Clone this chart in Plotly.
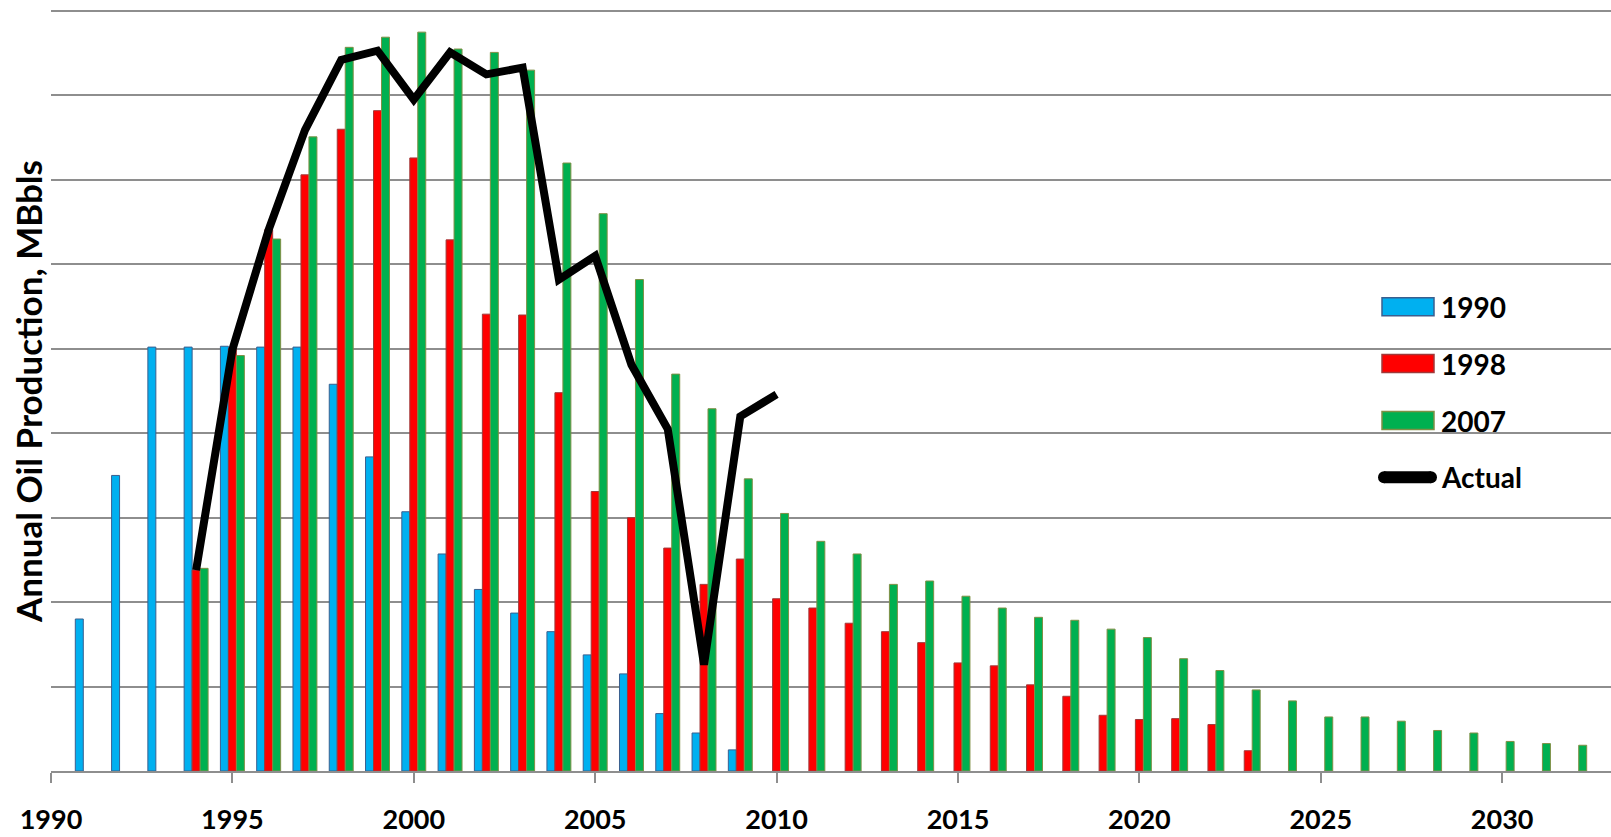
import plotly.graph_objects as go

# ---------------- data ----------------
years_1990 = list(range(1991, 2010))
prod_1990 = [18.0, 35.0, 50.2, 50.2, 50.3, 50.2, 50.2, 45.8, 37.2, 30.7,
             25.7, 21.5, 18.7, 16.5, 13.75, 11.5, 6.8, 4.5, 2.5]

years_1998 = list(range(1994, 2024))
prod_1998 = [23.8, 50.0, 64.1, 70.6, 76.0, 78.2, 72.6, 62.9, 54.1, 54.0,
             44.8, 33.1, 30.0, 26.4, 22.1, 25.1, 20.4, 19.3, 17.5, 16.5,
             15.2, 12.8, 12.45, 10.2, 8.85, 6.6, 6.1, 6.2, 5.5, 2.4]

years_2007 = list(range(1994, 2033))
prod_2007 = [24.0, 49.2, 63.0, 75.1, 85.7, 86.9, 87.5, 85.5, 85.1, 83.0,
             72.0, 66.0, 58.2, 47.0, 42.9, 34.6, 30.5, 27.2, 25.7, 22.1,
             22.5, 20.7, 19.3, 18.2, 17.85, 16.8, 15.8, 13.3, 11.9, 9.6,
             8.3, 6.4, 6.4, 5.9, 4.8, 4.5, 3.5, 3.25, 3.05]

years_actual = list(range(1994, 2011))
prod_actual = [23.8, 49.9, 64.1, 75.9, 84.2, 85.3, 79.5, 85.1, 82.5, 83.3,
               58.2, 61.0, 48.1, 40.5, 12.6, 42.0, 44.6]

series_names = ["1990", "1998", "2007", "Actual"]
y_title = "Annual Oil Production, MBbls"

# ---------------- styles ----------------
FONT = "Lato"
GRID = "#8E8E8E"
fills = ["#00B0F0", "#FF0000", "#00B050"]
edges = ["#3A5F8F", "#A0393A", "#7F8F45"]

fig = go.Figure()
for name, xs, ys, fc, ec in zip(series_names[:3],
                                [years_1990, years_1998, years_2007],
                                [prod_1990, prod_1998, prod_2007],
                                fills, edges):
    fig.add_trace(go.Bar(x=xs, y=ys, name=name, marker=dict(color=fc, line=dict(color=ec, width=1)),
                         showlegend=False))

fig.add_trace(go.Scatter(x=years_actual, y=prod_actual, name="Actual", mode="lines",
                         line=dict(color="black", width=8), showlegend=False))

W, H = 1611, 837
ML, MR, MT, MB = 51, 0, 3, 66
PW, PH = W - ML - MR, H - MT - MB
YMAX = 90.95


def px(xp):
    return (xp - ML) / PW


def py(yp):
    return (H - MB - yp) / PH


shapes = []
annotations = []
# manual legend
legend_rows = [306.8, 363.5, 420.5, 477.3]
for i in range(3):
    yc = legend_rows[i]
    shapes.append(dict(type="rect", xref="paper", yref="paper",
                       x0=px(1382), x1=px(1434), y0=py(yc + 9), y1=py(yc - 9),
                       fillcolor=fills[i], line=dict(color=edges[i], width=1.5)))
shapes.append(dict(type="line", xref="paper", yref="paper",
                   x0=px(1384), x1=px(1431), y0=py(legend_rows[3]), y1=py(legend_rows[3]),
                   line=dict(color="black", width=12)))
shapes.append(dict(type="circle", xref="paper", yref="paper",
                   x0=px(1378), x1=px(1390), y0=py(legend_rows[3] + 6), y1=py(legend_rows[3] - 6),
                   fillcolor="black", line=dict(width=0)))
shapes.append(dict(type="circle", xref="paper", yref="paper",
                   x0=px(1425), x1=px(1437), y0=py(legend_rows[3] + 6), y1=py(legend_rows[3] - 6),
                   fillcolor="black", line=dict(width=0)))
for i in range(4):
    annotations.append(dict(x=px(1439), y=py(legend_rows[i]), xref="paper", yref="paper",
                            text=series_names[i], showarrow=False, xanchor="left", yanchor="middle",
                            font=dict(family=FONT, size=28, color="black", weight="bold")))

annotations.append(dict(x=px(28), y=py(392), xref="paper", yref="paper", text=y_title,
                        textangle=-90, showarrow=False, xanchor="center", yanchor="middle",
                        font=dict(family=FONT, size=35, color="black", weight="bold")))

fig.update_layout(
    width=W, height=H,
    margin=dict(l=ML, r=MR, t=MT, b=MB, pad=0, autoexpand=False),
    paper_bgcolor="white", plot_bgcolor="white",
    barmode="group", bargap=0.34, bargroupgap=0,
    shapes=shapes, annotations=annotations,
    xaxis=dict(range=[1990, 2033], tick0=1990, dtick=5, showgrid=False, zeroline=False,
               showline=True, linecolor=GRID, linewidth=1.5, automargin=False,
               ticks="outside", ticklen=10, tickwidth=1.5, tickcolor=GRID,
               ticklabelstandoff=14,
               tickfont=dict(family=FONT, size=27, color="black", weight="bold")),
    yaxis=dict(range=[0, YMAX], tick0=0, dtick=10, showticklabels=False, showgrid=True,
               automargin=False,
               gridcolor=GRID, gridwidth=1.5, zeroline=False, showline=False),
)

fig.write_html("out.html", config={"displayModeBar": False},
               post_script="document.body.style.margin='0';document.body.style.overflow='hidden';")
